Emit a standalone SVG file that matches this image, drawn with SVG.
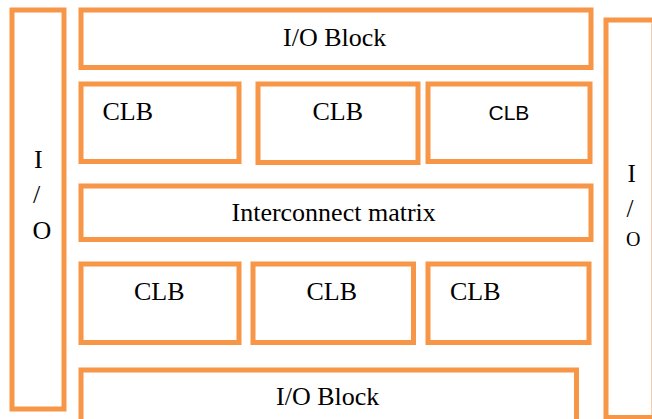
<svg xmlns="http://www.w3.org/2000/svg" width="652" height="419" viewBox="0 0 652 419">
  <style>
    .blk { fill: #ffffff; stroke: #F79646; stroke-width: 5; }
    .lbl { font-family: "Liberation Serif", "Times New Roman", serif; font-size: 26px; fill: #000000; }
    .sans { font-family: "Liberation Sans", Arial, sans-serif; font-size: 21px; fill: #000000; }
  </style>
  <rect width="652" height="419" fill="#ffffff"/>

  <!-- left I/O column -->
  <g id="io-left">
    <rect class="blk" x="12" y="10" width="52" height="399"/>
    <text class="lbl" x="34" y="167.5">I</text>
    <text class="lbl" x="33" y="203">/</text>
    <text class="lbl" x="32.5" y="239">O</text>
  </g>

  <!-- right I/O column -->
  <g id="io-right">
    <rect class="blk" x="606" y="20" width="48" height="397.5"/>
    <text class="lbl" x="627.5" y="181.5" style="font-size:25px">I</text>
    <text class="lbl" x="626.5" y="216.5" style="font-size:25px">/</text>
    <text class="lbl" x="626" y="246" style="font-size:20px">O</text>
  </g>

  <!-- top I/O block -->
  <g id="io-top">
    <rect class="blk" x="81" y="10" width="510" height="57.5"/>
    <text class="lbl" x="283" y="45.5">I/O Block</text>
  </g>

  <!-- first row of logic blocks -->
  <g id="clb-1">
    <rect class="blk" x="81" y="84" width="158" height="77.5"/>
    <text class="lbl" x="102.5" y="120">CLB</text>
  </g>
  <g id="clb-2">
    <rect class="blk" x="258" y="84" width="160" height="78.5"/>
    <text class="lbl" x="312.5" y="120">CLB</text>
  </g>
  <g id="clb-3">
    <rect class="blk" x="428" y="84" width="162" height="77.5"/>
    <text class="sans" x="488.5" y="120">CLB</text>
  </g>

  <!-- interconnect -->
  <g id="interconnect">
    <rect class="blk" x="81" y="186" width="510" height="53.5"/>
    <text class="lbl" x="231.5" y="220.5">Interconnect matrix</text>
  </g>

  <!-- second row of logic blocks -->
  <g id="clb-4">
    <rect class="blk" x="81" y="264" width="158" height="78.5"/>
    <text class="lbl" x="134" y="299.5">CLB</text>
  </g>
  <g id="clb-5">
    <rect class="blk" x="253" y="264" width="160.5" height="78.5"/>
    <text class="lbl" x="306.5" y="299.5">CLB</text>
  </g>
  <g id="clb-6">
    <rect class="blk" x="428" y="264" width="161" height="78.5"/>
    <text class="lbl" x="450" y="299.5">CLB</text>
  </g>

  <!-- bottom I/O block -->
  <g id="io-bottom">
    <rect class="blk" x="81" y="370" width="495.5" height="60"/>
    <text class="lbl" x="276" y="405">I/O Block</text>
  </g>

  <!-- no connectors between the blocks -->
  <g id="connectors"/>
</svg>
